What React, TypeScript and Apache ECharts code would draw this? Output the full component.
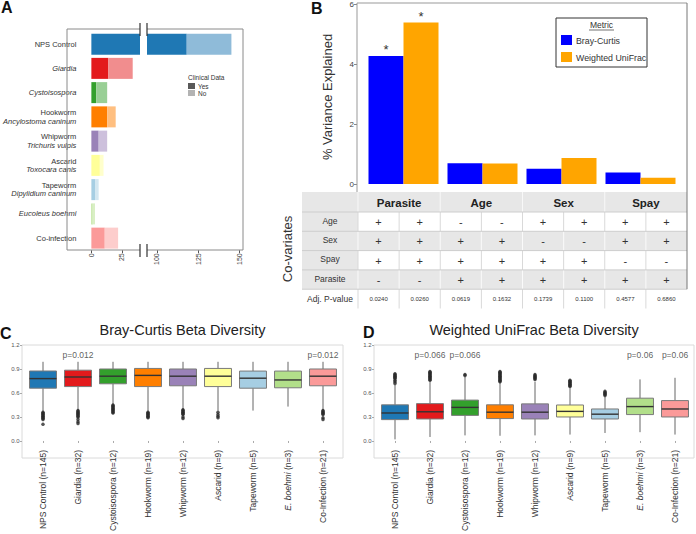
import React, { useEffect, useRef } from 'react';
import * as echarts from 'echarts';

const FONT = '"Liberation Sans", Arial, Helvetica, sans-serif';

// ---------------- Panel A: sample counts ----------------
const parasiteNames = ['NPS Control', 'Giardia', 'Cystoisospora', 'Hookworm', 'Whipworm', 'Ascarid', 'Tapeworm', 'Eucoleus boehmi', 'Co-infection'];
const parasiteSpecies = ['', '', '', 'Ancylostoma caninum', 'Trichuris vulpis', 'Toxocara canis', 'Dipylidium caninum', '', ''];
const italicName = [false, true, true, false, false, false, false, true, false];
const clinicalYes = [118, 14, 4, 13, 6, 7, 3, 1, 11];
const clinicalNo = [27, 20, 9, 7, 7, 3, 3, 2, 11];
const yesColors = ['#1f78b4', '#e31a1c', '#33a02c', '#ff7f00', '#9a82b8', '#ffff99', '#a6cee3', '#b2df8a', '#fb9a99'];
const noColors = ['#8fbbd9', '#f18d8e', '#99cf95', '#ffbf80', '#cdc0dc', '#ffffcc', '#d3e7f1', '#d9efc5', '#fdcdcc'];
const leftTicks = [0, 25];
const rightTicks = [100, 125, 150];
const clinicalLegend = ['Yes', 'No'];
const clinicalLegendColors = ['#595959', '#b3b3b3'];

// ---------------- Panel B: PERMANOVA ----------------
const factors = ['Parasite', 'Age', 'Sex', 'Spay'];
const brayCurtis = [4.27, 0.69, 0.51, 0.38];
const weightedUniFrac = [5.38, 0.68, 0.87, 0.21];
const bcSignif = ['*', '', '', ''];
const wuSignif = ['*', '', '', ''];
const covariateRows = ['Age', 'Sex', 'Spay', 'Parasite'];
const covariateSigns = [
  ['+', '+', '-', '-', '+', '+', '+', '+'],
  ['+', '+', '+', '+', '-', '-', '+', '+'],
  ['+', '+', '+', '+', '+', '+', '-', '-'],
  ['-', '-', '+', '+', '+', '+', '+', '+'],
];
const adjPValues = ['0.0240', '0.0260', '0.0619', '0.1632', '0.1739', '0.1100', '0.4577', '0.6860'];

// ---------------- Panels C & D: beta diversity ----------------
const groupNames = ['NPS Control', 'Giardia', 'Cystoisospora', 'Hookworm', 'Whipworm', 'Ascarid', 'Tapeworm', 'E. boehmi', 'Co-Infection'];
const groupN = [145, 32, 12, 19, 12, 9, 5, 3, 21];
const groupItalic = [false, false, false, false, false, false, false, true, false];
const groupColors = ['#1f78b4', '#e31a1c', '#33a02c', '#ff7f00', '#9a82b8', '#ffff99', '#a6cee3', '#b2df8a', '#fb9a99'];
// [lower whisker, q1, median, q3, upper whisker]
const brayBoxes = [
  [0.37, 0.66, 0.78, 0.875, 0.99],
  [0.39, 0.68, 0.80, 0.885, 0.99],
  [0.46, 0.715, 0.81, 0.90, 0.99],
  [0.37, 0.68, 0.82, 0.907, 0.99],
  [0.40, 0.69, 0.81, 0.90, 0.99],
  [0.38, 0.68, 0.81, 0.907, 0.99],
  [0.38, 0.66, 0.785, 0.874, 0.99],
  [0.43, 0.665, 0.763, 0.874, 0.99],
  [0.39, 0.69, 0.81, 0.90, 0.99],
];
const brayOutliers = [
  [0.36, 0.35, 0.34, 0.33, 0.32, 0.31, 0.30, 0.29, 0.28, 0.27, 0.21],
  [0.38, 0.37, 0.36, 0.35, 0.34, 0.33, 0.32, 0.31, 0.30, 0.27, 0.24, 0.22],
  [0.45, 0.44, 0.43, 0.42, 0.41, 0.40, 0.39, 0.38, 0.37, 0.36, 0.35],
  [0.36, 0.35, 0.34, 0.33, 0.32, 0.31, 0.30, 0.29],
  [0.39, 0.38, 0.37, 0.36, 0.35, 0.34, 0.33, 0.30, 0.28],
  [0.36, 0.33, 0.31, 0.29],
  [],
  [],
  [0.38, 0.37, 0.36, 0.35, 0.34, 0.33, 0.29, 0.27],
];
const brayPLabels = ['', 'p=0.012', '', '', '', '', '', '', 'p=0.012'];
const unifracBoxes = [
  [0.02, 0.267, 0.35, 0.452, 0.70],
  [0.05, 0.275, 0.365, 0.467, 0.74],
  [0.07, 0.32, 0.42, 0.511, 0.80],
  [0.065, 0.28, 0.36, 0.452, 0.73],
  [0.07, 0.275, 0.36, 0.464, 0.74],
  [0.08, 0.30, 0.37, 0.45, 0.66],
  [0.10, 0.275, 0.335, 0.40, 0.55],
  [0.11, 0.33, 0.43, 0.535, 0.77],
  [0.08, 0.30, 0.40, 0.505, 0.79],
];
const unifracOutliers = [
  [0.72, 0.74, 0.76, 0.78, 0.79, 0.80, 0.81, 0.82, 0.83, 0.84],
  [0.76, 0.77, 0.78, 0.79, 0.80, 0.81, 0.82, 0.83, 0.84, 0.85, 0.86, 0.87],
  [0.82, 0.83],
  [0.74, 0.75, 0.76, 0.77, 0.78, 0.79, 0.80, 0.81, 0.82, 0.83, 0.84, 0.85, 0.86, 0.87],
  [0.77, 0.78, 0.79, 0.80, 0.81, 0.82, 0.83],
  [0.68, 0.69, 0.70, 0.71, 0.72, 0.73, 0.74, 0.75, 0.76],
  [0.57, 0.58, 0.59, 0.60, 0.61, 0.62],
  [],
  [],
];
const unifracPLabels = ['', 'p=0.066', 'p=0.066', '', '', '', '', 'p=0.06', 'p=0.06'];
const pLabelY = 1.078;

// ---------------- helpers ----------------
function txt(x: number, y: number, text: string, o: any = {}) {
  const align = o.align ?? 'center';
  const valign = o.valign ?? 'middle';
  return {
    type: 'text', x, y, silent: true, rotation: o.rot ?? 0, z: 10,
    style: {
      text, fontFamily: FONT, fontSize: o.size ?? 9, fill: o.color ?? '#333',
      fontWeight: o.weight ?? 'normal', fontStyle: o.style ?? 'normal',
      align, verticalAlign: valign, textAlign: align, textVerticalAlign: valign,
    },
  };
}
function ln(x1: number, y1: number, x2: number, y2: number, color: string, w = 1) {
  return { type: 'line', silent: true, z: 9, shape: { x1, y1, x2, y2 }, style: { stroke: color, lineWidth: w } };
}
function rc(x: number, y: number, w: number, h: number, fill: string, stroke?: string, z = 1) {
  return { type: 'rect', silent: true, z, shape: { x, y, width: w, height: h }, style: { fill, stroke: stroke ?? 'none', lineWidth: 1 } };
}

function boxRender(colors: string[]) {
  return (params: any, api: any) => {
    const i = api.value(0);
    const lo = api.coord([i, api.value(1)]);
    const q1 = api.coord([i, api.value(2)]);
    const md = api.coord([i, api.value(3)]);
    const q3 = api.coord([i, api.value(4)]);
    const hi = api.coord([i, api.value(5)]);
    const w = api.size([1, 0])[0] * 0.77;
    const cx = lo[0];
    return {
      type: 'group',
      children: [
        { type: 'line', shape: { x1: cx, y1: q1[1], x2: cx, y2: lo[1] }, style: { stroke: '#666', lineWidth: 1 } },
        { type: 'line', shape: { x1: cx, y1: q3[1], x2: cx, y2: hi[1] }, style: { stroke: '#666', lineWidth: 1 } },
        { type: 'rect', shape: { x: cx - w / 2, y: q3[1], width: w, height: q1[1] - q3[1] }, style: { fill: colors[params.dataIndex], stroke: '#7a7a7a', lineWidth: 1 } },
        { type: 'line', shape: { x1: cx - w / 2, y1: md[1], x2: cx + w / 2, y2: md[1] }, style: { stroke: '#333', lineWidth: 1.4 } },
      ],
    };
  };
}

function groupLabel(_v: string, idx: number) {
  const name = groupNames[idx];
  const n = groupN[idx];
  return groupItalic[idx] ? `{i|${name}}{n| (n=${n})}` : `{n|${name} (n=${n})}`;
}

function buildOption() {
  const G: any[] = [];
  // ---------- Panel A decorations ----------
  G.push(txt(1, 7, 'A', { size: 16, weight: 'bold', align: 'left', color: '#111' }));
  const aTop = 29, aBot = 250, aL = 67, aR = 243, b1 = 140, b2 = 147;
  const fc = '#8a8a8a';
  G.push(ln(aL, aTop, aL, aBot, fc));
  G.push(ln(aR, aTop, aR, aBot, fc));
  G.push(ln(aL, aTop, b1, aTop, fc));
  G.push(ln(b2, aTop, aR, aTop, fc));
  G.push(ln(aL, aBot, b1, aBot, fc));
  G.push(ln(b2, aBot, aR, aBot, fc));
  [b1, b2].forEach((bx) => {
    G.push(ln(bx, 23, bx, 36, '#333', 1.2));
    G.push(ln(bx, 244, bx, 257, '#333', 1.2));
  });
  G.push(txt(188, 77, 'Clinical Data', { size: 6.5, align: 'left' }));
  clinicalLegend.forEach((t, k) => {
    G.push(rc(188, 83 + k * 7, 7, 6, clinicalLegendColors[k], undefined, 5));
    G.push(txt(198, 86 + k * 7, t, { size: 6.5, align: 'left' }));
  });

  // ---------- Panel B decorations ----------
  G.push(txt(311, 8, 'B', { size: 16, weight: 'bold', align: 'left', color: '#111' }));
  const bL = 357, bR = 687, bT = 3;
  G.push(ln(bL, bT, bR, bT, '#999'));
  G.push(ln(bL, bT, bL, 192, '#999'));
  G.push(txt(327, 97, '% Variance Explained', { size: 13, rot: Math.PI / 2, color: '#333' }));
  // legend
  G.push(rc(556, 18, 91, 49, '#fff', '#333', 5));
  G.push(txt(601.5, 25, 'Metric', { size: 8.5 }));
  G.push(ln(589, 30, 614, 30, '#333', 0.7));
  G.push(rc(561, 35, 11, 10, '#0000ff', undefined, 6));
  G.push(txt(576, 40.5, 'Bray-Curtis', { size: 8.8, align: 'left' }));
  G.push(rc(561, 52, 11, 10, '#ffa500', undefined, 6));
  G.push(txt(576, 57.5, 'Weighted UniFrac', { size: 8.8, align: 'left' }));

  // table
  const tX0 = 302, tXL = 358, tX1 = 687;
  const colW = (tX1 - tXL) / 8;
  const hTop = 192, hH = 20, rH = 19.3;
  const rowTop = (r: number) => hTop + hH + r * rH;
  const gray = '#e7e7e7';
  G.push(rc(tX0, hTop, tX1 - tX0, hH, gray));
  for (let r = 0; r < 4; r++) {
    if (r % 2 === 1) G.push(rc(tX0, rowTop(r), tX1 - tX0, rH, gray));
    else G.push(rc(tX0, rowTop(r), tXL - tX0, rH, gray));
  }
  for (let g = 0; g < 4; g++) G.push(ln(tXL + 2 * g * colW, hTop, tXL + 2 * g * colW, hTop + hH, '#f8f8f8'));
  for (let r = 0; r < 5; r++) {
    for (let c = 0; c < 8; c++) {
      const x = tXL + c * colW;
      G.push(ln(x, rowTop(r), x, rowTop(r) + rH, r % 2 === 1 ? '#fafafa' : '#d9d9d9'));
    }
  }
  for (let r = 0; r <= 4; r++) G.push(ln(tX0, rowTop(r), tX1, rowTop(r), '#cdcdcd'));
  G.push(ln(bR, bT, bR, rowTop(4), '#777'));
  factors.forEach((f, g) => G.push(txt(tXL + (2 * g + 1) * colW, hTop + hH / 2 + 0.5, f, { size: 11.5, weight: 'bold', color: '#222' })));
  covariateRows.forEach((name, r) => {
    G.push(txt(330, rowTop(r) + rH / 2 - 1, name, { size: 8.5 }));
    covariateSigns[r].forEach((s, c) => G.push(txt(tXL + (c + 0.5) * colW, rowTop(r) + rH / 2 + 0.5, s, { size: 11, color: '#333' })));
  });
  G.push(txt(330, rowTop(4) + rH / 2, 'Adj. P-value', { size: 8.5 }));
  adjPValues.forEach((p, c) => G.push(txt(tXL + (c + 0.5) * colW, rowTop(4) + rH / 2, p, { size: 6, color: '#333' })));
  G.push(txt(287, 249, 'Co-variates', { size: 13, rot: Math.PI / 2, color: '#333' }));

  // ---------- Panels C/D decorations ----------
  G.push(txt(0, 333, 'C', { size: 16, weight: 'bold', align: 'left', color: '#111' }));
  G.push(txt(363, 332, 'D', { size: 16, weight: 'bold', align: 'left', color: '#111' }));
  G.push(txt(182.5, 330, 'Bray-Curtis Beta Diversity', { size: 14.5, color: '#222' }));
  G.push(txt(534, 330, 'Weighted UniFrac Beta Diversity', { size: 14.5, color: '#222' }));
  G.push(rc(22, 345, 321, 113, 'none', '#dadada', 0));
  G.push(rc(374, 345, 320, 113, 'none', '#dadada', 0));

  const aLabelRich = {
    n: { fontFamily: FONT, fontSize: 7.5, color: '#333', lineHeight: 8.5 },
    i: { fontFamily: FONT, fontSize: 7.5, color: '#333', fontStyle: 'italic', lineHeight: 8.5 },
  };
  const grpRich = {
    n: { fontFamily: FONT, fontSize: 8.5, color: '#333' },
    i: { fontFamily: FONT, fontSize: 8.5, color: '#333', fontStyle: 'italic' },
  };

  const betaY = (grid: number) => ({
    type: 'value', gridIndex: grid, min: 0, max: 1.2, interval: 0.3, offset: 3.5,
    axisLine: { show: false }, splitLine: { show: false },
    axisTick: { show: true, length: 2, lineStyle: { color: '#aaa' } },
    axisLabel: { fontFamily: FONT, fontSize: 6, color: '#555', margin: 2.5, formatter: (v: number) => v.toFixed(1) },
  });
  const betaX = (grid: number) => ({
    type: 'category', gridIndex: grid, data: groupNames, offset: 5,
    axisLine: { show: false },
    axisTick: { show: true, length: 2, alignWithLabel: true, lineStyle: { color: '#aaa' } },
    axisLabel: { rotate: 90, margin: 4, color: '#333', formatter: groupLabel, rich: grpRich, interval: 0 },
  });

  const boxData = (arr: number[][]) => arr.map((b, i) => [i, ...b]);
  const outData = (arr: number[][]) => arr.flatMap((vals, i) => vals.map((v) => [i, v]));
  const pData = (arr: string[]) => arr.map((t, i) => (t ? { value: [i, pLabelY], name: t } : null)).filter(Boolean);

  const option: any = {
    animation: false,
    textStyle: { fontFamily: FONT },
    grid: [
      { left: 78, top: 32, width: 62, height: 218.25 },
      { left: 147, top: 32, width: 96, height: 218.25 },
      { left: 364, top: 4, width: 316, height: 180 },
      { left: 25.5, top: 345, width: 315, height: 108 },
      { left: 377.5, top: 345, width: 315, height: 108 },
    ],
    xAxis: [
      {
        type: 'value', gridIndex: 0, min: 0, max: 40,
        axisLine: { show: false }, splitLine: { show: false },
        axisTick: { show: true, length: 3, customValues: leftTicks, lineStyle: { color: '#555' } },
        axisLabel: { rotate: 90, fontSize: 7, color: '#444', margin: 3, customValues: leftTicks },
      },
      {
        type: 'value', gridIndex: 1, min: 94, max: 152,
        axisLine: { show: false }, splitLine: { show: false },
        axisTick: { show: true, length: 3, customValues: rightTicks, lineStyle: { color: '#555' } },
        axisLabel: { rotate: 90, fontSize: 7, color: '#444', margin: 3, customValues: rightTicks },
      },
      {
        type: 'category', gridIndex: 2, data: factors,
        axisLine: { show: false }, axisTick: { show: false }, axisLabel: { show: false },
      },
      betaX(3),
      betaX(4),
    ],
    yAxis: [
      {
        type: 'category', gridIndex: 0, data: parasiteNames, inverse: true,
        axisLine: { show: false }, axisTick: { show: false },
        axisLabel: {
          margin: 15, interval: 0, rich: aLabelRich, color: '#333',
          formatter: (_v: string, idx: number) => {
            const first = italicName[idx] ? `{i|${parasiteNames[idx]}}` : `{n|${parasiteNames[idx]}}`;
            return parasiteSpecies[idx] ? `${first}\n{i|${parasiteSpecies[idx]}}` : first;
          },
        },
      },
      {
        type: 'category', gridIndex: 1, data: parasiteNames, inverse: true,
        axisLine: { show: false }, axisTick: { show: false }, axisLabel: { show: false },
      },
      {
        type: 'value', gridIndex: 2, min: 0, max: 6, interval: 2, offset: 7,
        axisLine: { show: false }, splitLine: { show: false },
        axisTick: { show: true, length: 3, lineStyle: { color: '#888' } },
        axisLabel: { fontSize: 8, color: '#444', margin: 3 },
      },
      betaY(3),
      betaY(4),
    ],
    series: [
      {
        type: 'bar', name: 'Yes', xAxisIndex: 0, yAxisIndex: 0, stack: 'left', barWidth: 21,
        data: clinicalYes.map((v, i) => ({ value: v, itemStyle: { color: yesColors[i] } })),
      },
      {
        type: 'bar', name: 'No', xAxisIndex: 0, yAxisIndex: 0, stack: 'left', barWidth: 21,
        data: clinicalNo.map((v, i) => ({ value: v, itemStyle: { color: noColors[i] } })),
      },
      {
        type: 'bar', name: 'Yes', xAxisIndex: 1, yAxisIndex: 1, stack: 'right', barWidth: 21,
        data: clinicalYes.map((v, i) => ({ value: v, itemStyle: { color: yesColors[i] } })),
      },
      {
        type: 'bar', name: 'No', xAxisIndex: 1, yAxisIndex: 1, stack: 'right', barWidth: 21,
        data: clinicalNo.map((v, i) => ({ value: v, itemStyle: { color: noColors[i] } })),
      },
      {
        type: 'bar', name: 'Bray-Curtis', xAxisIndex: 2, yAxisIndex: 2, barWidth: 35, barGap: '0%',
        itemStyle: { color: '#0000ff' }, data: brayCurtis,
        label: { show: true, position: 'top', distance: 0, fontSize: 13, color: '#333', formatter: (p: any) => bcSignif[p.dataIndex] },
      },
      {
        type: 'bar', name: 'Weighted UniFrac', xAxisIndex: 2, yAxisIndex: 2, barWidth: 35, barGap: '0%',
        itemStyle: { color: '#ffa500' }, data: weightedUniFrac,
        label: { show: true, position: 'top', distance: 0, fontSize: 13, color: '#333', formatter: (p: any) => wuSignif[p.dataIndex] },
      },
      {
        type: 'custom', xAxisIndex: 3, yAxisIndex: 3, renderItem: boxRender(groupColors),
        encode: { x: 0, y: [1, 2, 3, 4, 5] }, data: boxData(brayBoxes),
      },
      {
        type: 'scatter', xAxisIndex: 3, yAxisIndex: 3, symbolSize: 3.5, itemStyle: { color: '#2b2b2b' },
        data: outData(brayOutliers),
      },
      {
        type: 'scatter', xAxisIndex: 3, yAxisIndex: 3, symbolSize: 1, itemStyle: { color: 'rgba(0,0,0,0)' },
        label: { show: true, position: 'inside', formatter: '{b}', fontSize: 8.5, color: '#333' },
        data: pData(brayPLabels),
      },
      {
        type: 'custom', xAxisIndex: 4, yAxisIndex: 4, renderItem: boxRender(groupColors),
        encode: { x: 0, y: [1, 2, 3, 4, 5] }, data: boxData(unifracBoxes),
      },
      {
        type: 'scatter', xAxisIndex: 4, yAxisIndex: 4, symbolSize: 3.5, itemStyle: { color: '#2b2b2b' },
        data: outData(unifracOutliers),
      },
      {
        type: 'scatter', xAxisIndex: 4, yAxisIndex: 4, symbolSize: 1, itemStyle: { color: 'rgba(0,0,0,0)' },
        label: { show: true, position: 'inside', formatter: '{b}', fontSize: 8.5, color: '#333' },
        data: pData(unifracPLabels),
      },
    ],
    graphic: { elements: G },
  };
  return option;
}

export default function App() {
  const ref = useRef<HTMLDivElement>(null);
  useEffect(() => {
    const chart = echarts.init(ref.current!, null, { renderer: 'svg', width: 696, height: 534 });
    chart.setOption(buildOption());
    return () => chart.dispose();
  }, []);
  return <div ref={ref} style={{ position: 'absolute', left: 0, top: 0, width: 696, height: 534, background: '#fff' }} />;
}
